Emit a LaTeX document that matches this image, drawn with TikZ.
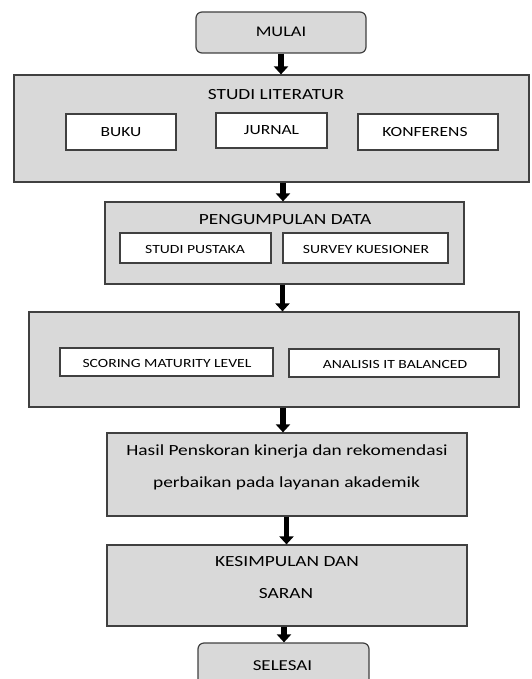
\documentclass[tikz,border=0pt]{standalone}
\usepackage{fontspec}
\setmainfont{Carlito}[FakeStretch=1.25]
\usetikzlibrary{arrows.meta}
\definecolor{boxgray}{HTML}{D9D9D9}
\definecolor{edge}{HTML}{404040}
\tikzset{
  graybox/.style={draw=edge, line width=1.2pt, fill=boxgray, inner sep=0pt},
  whitebox/.style={draw=edge, line width=1.2pt, fill=white, inner sep=0pt},
  btext/.style={inner sep=0pt, font=\fontsize{14}{16}\selectfont},
  stext/.style={inner sep=0pt, font=\fontsize{12.5}{14}\selectfont},
  termbox/.style={graybox, rounded corners=6pt},
  titletext/.style={inner sep=0pt, font=\fontsize{15.5}{18}\selectfont},
  flow/.style={line width=5.5pt, -{Triangle[width=14pt,length=8pt]}}
}
\begin{document}
\begin{tikzpicture}[x=1pt,y=-1pt]
\useasboundingbox (0,0) rectangle (531,679);
\clip (0,0) rectangle (531,679);
% start
\node[termbox, minimum width=170pt, minimum height=41pt] (mulai) at (281,32.5) {};
\node[titletext, font=\fontsize{14.7}{17}\selectfont] (mulait) at (281,32) {MULAI};
% studi literatur
\node[graybox, minimum width=515pt, minimum height=107pt] (studi) at (271.5,128.5) {};
\node[titletext] (studit) at (276,95) {STUDI LITERATUR};
\node[whitebox, minimum width=110pt, minimum height=36pt] (buku) at (121,132) {};
\node[btext] (bukut) at (121,132) {BUKU};
\node[whitebox, minimum width=111pt, minimum height=35pt] (jurnal) at (271.5,130.5) {};
\node[btext] (jurnalt) at (271.5,130) {JURNAL};
\node[whitebox, minimum width=140pt, minimum height=36pt] (konf) at (428,132) {};
\node[btext] (konft) at (425,132) {KONFERENS};
% pengumpulan data
\node[graybox, minimum width=359pt, minimum height=82pt] (pd) at (284.5,243) {};
\node[titletext] (pdt) at (285,220) {PENGUMPULAN DATA};
\node[whitebox, minimum width=151pt, minimum height=30pt] (pustaka) at (195.5,248) {};
\node[stext] (pustakat) at (195,249) {STUDI PUSTAKA};
\node[whitebox, minimum width=165pt, minimum height=30pt] (survey) at (365.5,248) {};
\node[stext] (surveyt) at (366,249) {SURVEY KUESIONER};
% scoring
\node[graybox, minimum width=490pt, minimum height=95pt] (sc) at (274,359.5) {};
\node[whitebox, minimum width=213pt, minimum height=28pt] (scoring) at (166.5,362) {};
\node[stext] (scoringt) at (167,363.5) {SCORING MATURITY LEVEL};
\node[whitebox, minimum width=210pt, minimum height=28pt] (analisis) at (394,363) {};
\node[stext] (analisist) at (395,364.5) {ANALISIS IT BALANCED};
% hasil
\node[graybox, minimum width=360pt, minimum height=83pt] (hasil) at (287,474.5) {};
\node[titletext, anchor=base] (h1) at (287,455.5) {Hasil Penskoran kinerja dan rekomendasi};
\node[titletext, anchor=base] (h2) at (286.5,487.5) {perbaikan pada layanan akademik};
% kesimpulan
\node[graybox, minimum width=360pt, minimum height=81pt] (kes) at (287,585.5) {};
\node[titletext] (k1) at (287,562) {KESIMPULAN DAN};
\node[titletext] (k2) at (286,594) {SARAN};
% end
\node[termbox, minimum width=171pt, minimum height=50pt] (selesai) at (283.5,668) {};
\node[titletext, font=\fontsize{15.2}{17}\selectfont] (selt) at (282.5,666) {SELESAI};
% arrows
\coordinate (ax1) at (281,0);
\coordinate (ax2) at (283,0);
\coordinate (ax3) at (282.5,0);
\coordinate (ax4) at (283,0);
\coordinate (ax5) at (286.5,0);
\coordinate (ax6) at (284,0);
\draw[flow] (mulai.south -| ax1) -- (studi.north -| ax1);
\draw[flow] (studi.south -| ax2) -- (pd.north -| ax2);
\draw[flow] (pd.south -| ax3) -- (sc.north -| ax3);
\draw[flow] (sc.south -| ax4) -- (hasil.north -| ax4);
\draw[flow] (hasil.south -| ax5) -- (kes.north -| ax5);
\draw[flow] (kes.south -| ax6) -- (selesai.north -| ax6);
\end{tikzpicture}
\end{document}
